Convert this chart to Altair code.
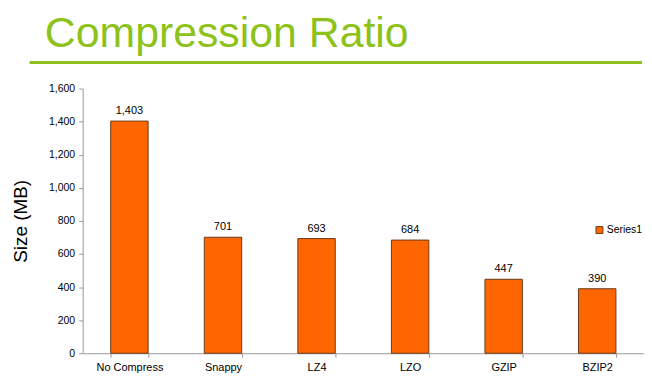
import altair as alt
import pandas as pd

categories = ["No Compress", "Snappy", "LZ4", "LZO", "GZIP", "BZIP2"]
sizes = [1403, 701, 693, 684, 447, 390]
series = ["Series1"] * len(categories)
y_ticks = [0, 200, 400, 600, 800, 1000, 1200, 1400, 1600]

df = pd.DataFrame({"method": categories, "size": sizes, "series": series})

FONT = "Liberation Sans"
GREEN = "#8CC21A"

x = alt.X("method:N", sort=categories, title=None,
          scale=alt.Scale(paddingInner=0.6, paddingOuter=0.3),
          axis=alt.Axis(labelAngle=0, tickBand="extent", labelFontSize=11,
                        labelColor="#000", labelPadding=4, domainColor="#999",
                        tickColor="#999", tickSize=4, labelFont=FONT,
                        labelOverlap=False))
y = alt.Y("size:Q", title="Size (MB)",
          scale=alt.Scale(domain=[0, 1600]),
          axis=alt.Axis(values=y_ticks, format=",.0f",
                        labelFontSize=10.5, labelColor="#000", domainColor="#999",
                        tickColor="#999", tickSize=4, grid=False,
                        labelOverlap=False, labelPadding=4,
                        titleFontSize=19, titleFontWeight="normal",
                        titleColor="#000", titleFont=FONT, labelFont=FONT,
                        titlePadding=18))

bars = alt.Chart(df).mark_bar(stroke="#6B3A1A", strokeWidth=1).encode(
    x=x, y=y,
    color=alt.Color("series:N", scale=alt.Scale(range=["#FF6600"]),
                    legend=alt.Legend(title=None, orient="none", legendX=514,
                                      legendY=137, symbolType="square",
                                      symbolSize=49, symbolStrokeColor="#6B3A1A",
                                      symbolStrokeWidth=1, labelFontSize=10.5,
                                      labelFont=FONT, labelColor="#000",
                                      labelOffset=2)),
)

labels = alt.Chart(df).mark_text(dy=-10, fontSize=11, font=FONT, color="#000").encode(
    x=x, y=y,
    text=alt.Text("size:Q", format=",.0f"),
)

line = alt.Chart(df).mark_rule(color=GREEN, strokeWidth=2.5).encode(
    x=alt.value(-53), x2=alt.value(562), y=alt.value(-26)
)

chart = alt.layer(bars, labels, line).properties(
    width=564, height=266,
    padding={"left": 75, "top": 80, "right": 0, "bottom": 30},
    autosize=alt.AutoSizeParams(type="none"),
    title=alt.TitleParams("Compression Ratio", anchor="start", fontSize=43,
                          font=FONT, fontWeight="normal", color=GREEN,
                          frame="group", dx=-38, dy=-1),
).configure_view(stroke=None).configure_axis(labelOverlap=False)

chart.save("out.html", embed_options={"renderer": "svg", "actions": False})
